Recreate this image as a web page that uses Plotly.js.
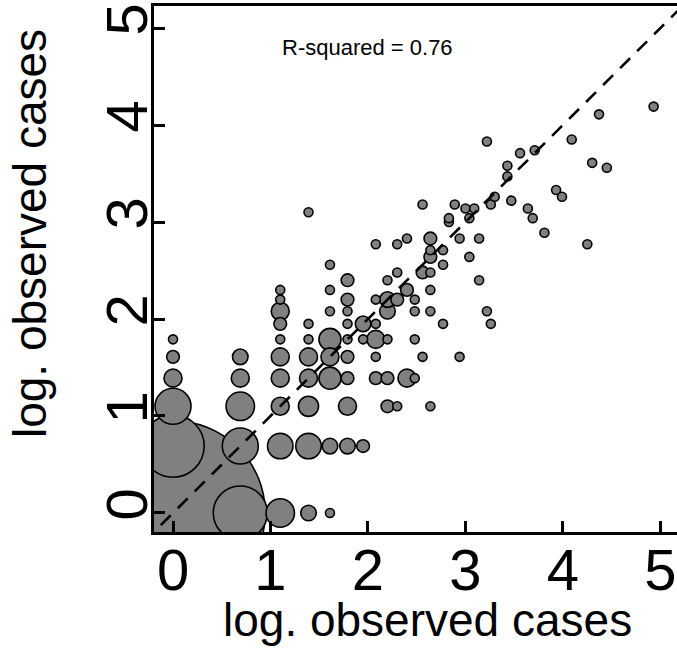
<!DOCTYPE html>
<html>
<head>
<meta charset="utf-8">
<script src="https://cdn.plot.ly/plotly-3.0.1.min.js"></script>
<style>html,body{margin:0;padding:0;background:#fff;}#chart{width:677px;height:651px;}</style>
</head>
<body>
<div id="chart"></div>
<script>
// log. observed cases (x), log. observed cases (y), number of regions at each point
var xVals = [
  0, 0, 0, 0, 0, 0,
  0.69, 0.69, 0.69, 0.69, 0.69,
  1.10, 1.10, 1.10, 1.10, 1.10, 1.10, 1.10, 1.10, 1.10, 1.10,
  1.39, 1.39, 1.39, 1.39, 1.39, 1.39, 1.39, 1.39,
  1.61, 1.61, 1.61, 1.61, 1.61, 1.61, 1.61, 1.61,
  1.79, 1.79, 1.79, 1.79, 1.79, 1.79, 1.79, 1.79, 1.79,
  1.95, 1.95, 1.95,
  2.08, 2.08, 2.08, 2.08, 2.08, 2.08,
  2.20, 2.20, 2.20, 2.20, 2.20, 2.20,
  2.30, 2.30, 2.30, 2.30,
  2.40, 2.40, 2.40,
  2.48, 2.48, 2.48, 2.48,
  2.56, 2.56, 2.56,
  2.64, 2.64, 2.64, 2.64, 2.64, 2.64, 2.64,
  2.77, 2.77, 2.77,
  2.83, 2.83,
  2.89, 2.94, 2.94, 3.00, 3.04, 3.04, 3.09, 3.14, 3.14,
  3.22, 3.22, 3.26, 3.26, 3.30, 3.47, 3.43, 3.43, 3.56, 3.71,
  3.64, 3.69, 3.81, 3.93, 3.99, 4.09, 4.25, 4.30, 4.37, 4.45, 4.93
];
var yVals = [
  0, 0.69, 1.10, 1.39, 1.61, 1.79,
  0, 0.69, 1.10, 1.39, 1.61,
  0, 0.69, 1.10, 1.39, 1.61, 1.79, 1.95, 2.08, 2.20, 2.30,
  0, 0.69, 1.10, 1.39, 1.61, 1.79, 1.95, 3.10,
  0, 0.69, 1.39, 1.61, 1.79, 2.08, 2.30, 2.56,
  0.69, 1.10, 1.39, 1.61, 1.79, 1.95, 2.08, 2.20, 2.40,
  0.69, 1.79, 1.95,
  1.39, 1.61, 1.79, 1.95, 2.20, 2.77,
  1.10, 1.39, 1.79, 2.08, 2.20, 2.40,
  1.10, 2.20, 2.48, 2.77,
  1.39, 2.30, 2.83,
  1.39, 1.79, 2.08, 2.20,
  1.61, 2.48, 3.18,
  1.10, 2.08, 2.30, 2.48, 2.64, 2.71, 2.83,
  1.95, 2.56, 2.71,
  3.00, 3.04,
  3.18, 1.61, 2.83, 3.14, 2.64, 3.04, 3.14, 2.40, 2.83,
  2.08, 3.83, 1.95, 3.18, 3.26, 3.22, 3.47, 3.58, 3.71, 3.74,
  3.14, 3.04, 2.89, 3.33, 3.26, 3.85, 2.77, 3.61, 4.11, 3.56, 4.19
];
var counts = [
  420, 48, 16, 4, 2, 1,
  36, 16, 10, 4, 3,
  10, 8, 4, 4, 4, 1, 2, 4, 1, 1,
  3, 8, 5, 4, 4, 1, 1, 1,
  1, 3, 6, 4, 6, 1, 1, 1,
  3, 4, 2, 2, 1, 1, 1, 2, 2,
  2, 1, 3,
  2, 1, 4, 1, 1, 1,
  2, 2, 1, 3, 3, 1,
  1, 2, 1, 1,
  4, 2, 1,
  1, 1, 1, 1,
  1, 2, 1,
  1, 1, 1, 1, 2, 1, 2,
  1, 1, 1,
  1, 1,
  1, 1, 1, 1, 1, 1, 1, 1, 1,
  1, 1, 1, 1, 1, 1, 1, 1, 1, 1,
  1, 1, 1, 1, 1, 1, 1, 1, 1, 1, 1
];
var axisTicks = [0, 1, 2, 3, 4, 5];
var tickLabels = ['0', '1', '2', '3', '4', '5'];
var identityLine = [-0.3, 5.4];
var rSquaredText = 'R-squared = 0.76';
var axisTitle = 'log. observed cases';

// draw big bubbles first so small ones stay visible
var order = counts.map(function (c, i) { return i; })
  .sort(function (a, b) { return counts[b] - counts[a]; });
var px = order.map(function (i) { return xVals[i]; });
var py = order.map(function (i) { return yVals[i]; });
var pn = order.map(function (i) { return counts[i]; });
var sizes = pn.map(function (n) { return 9 * Math.sqrt(n); });

var FONT = 'Liberation Sans, Arial, sans-serif';

var bubbles = {
  type: 'scatter', mode: 'markers',
  x: px, y: py, text: pn,
  marker: { size: sizes, sizemode: 'diameter', color: '#808080',
            opacity: 1, line: { color: '#000000', width: 1.6 } },
  cliponaxis: true, hoverinfo: 'x+y+text'
};
var diag = {
  type: 'scatter', mode: 'lines',
  x: identityLine, y: identityLine,
  line: { color: '#000000', width: 2.6, dash: '14px,10px' },
  hoverinfo: 'skip'
};

var axisCommon = {
  tickmode: 'array', tickvals: axisTicks, ticktext: tickLabels,
  ticks: 'inside', ticklen: 11, tickwidth: 3, tickcolor: '#000',
  showline: true, linewidth: 3, linecolor: '#000',
  showgrid: false, zeroline: false,
  tickfont: { family: FONT, size: 58, color: '#000' }
};

var layout = {
  width: 677, height: 651,
  margin: { l: 154, r: 0, t: 6, b: 119 },
  paper_bgcolor: '#fff', plot_bgcolor: '#fff',
  showlegend: false,
  xaxis: Object.assign({}, axisCommon, { range: [-0.195, 5.17], mirror: true, ticklabelstandoff: -15 }),
  yaxis: Object.assign({}, axisCommon, { range: [-0.196, 5.227], mirror: false, tickangle: -90, ticklabelstandoff: -19 }),
  annotations: [
    { xref: 'x', yref: 'y', x: 2.0, y: 4.8, text: rSquaredText, showarrow: false,
      font: { family: FONT, size: 22, color: '#000' } },
    { xref: 'paper', yref: 'paper', x: 0.522, y: -0.168, xanchor: 'center', yanchor: 'middle',
      text: axisTitle, showarrow: false, font: { family: FONT, size: 46, color: '#000' } },
    { xref: 'paper', yref: 'paper', x: -0.237, y: 0.5665, xanchor: 'center', yanchor: 'middle',
      textangle: -90, text: axisTitle, showarrow: false, font: { family: FONT, size: 46, color: '#000' } }
  ]
};

Plotly.newPlot('chart', [bubbles, diag], layout, { displayModeBar: false, staticPlot: true });
</script>
</body>
</html>
